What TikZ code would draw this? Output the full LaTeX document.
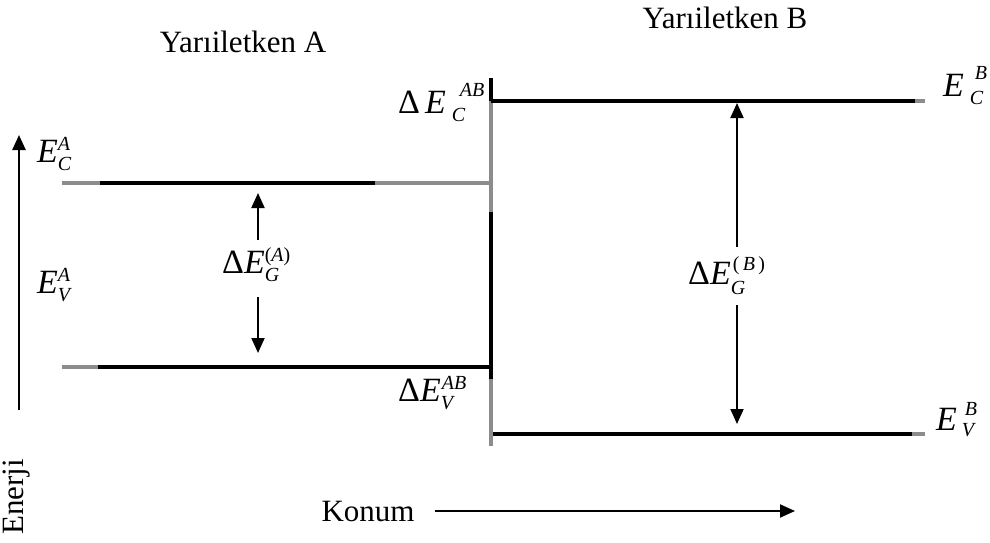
\documentclass[tikz,border=0pt]{standalone}
\usepackage{fontspec}
\setmainfont{Liberation Serif}
\usetikzlibrary{arrows.meta}
\definecolor{lvgray}{RGB}{140,140,140}
\newcommand{\bigf}{\fontsize{31}{36}\selectfont}
\newcommand{\labf}{\fontsize{34}{38}\selectfont}
\newcommand{\smf}{\fontsize{20}{22}\selectfont}
% superscript: xshift, raise, text ; subscript: lower, text
\newcommand{\SP}[3]{\makebox[0pt][l]{\hspace{#1}\raisebox{#2}{\smf\itshape #3}}}
\newcommand{\SB}[2]{\raisebox{-#1}{\smf\itshape #2}}
\begin{document}
\begin{tikzpicture}[x=1pt,y=-1pt,
  blk/.style={line width=4pt,black},
  gry/.style={line width=4pt,lvgray},
  garr/.style={line width=2pt,black,-{Triangle[length=15pt,width=13pt]}},
  lbl/.style={anchor=base west,inner sep=0pt,font=\labf},
  ttl/.style={inner sep=0pt,font=\bigf}]
\useasboundingbox (0,0) rectangle (990,543);
% coordinates of band edges
\coordinate (cA0) at (62,183);
\coordinate (cA1) at (100,183);
\coordinate (cA2) at (375,183);
\coordinate (cA3) at (491,183);
\coordinate (vA0) at (62,367);
\coordinate (vA1) at (98,367);
\coordinate (vA2) at (491,367);
\coordinate (iT) at (491,78);
\coordinate (iC) at (491,101);
\coordinate (iM) at (491,212);
\coordinate (iV) at (491,379);
\coordinate (iB) at (491,446);
\coordinate (cB0) at (491,101);
\coordinate (cB1) at (915,101);
\coordinate (cB2) at (925,101);
\coordinate (vB0) at (493,434);
\coordinate (vB1) at (912,434);
\coordinate (vB2) at (925,434);
% band lines
\draw[gry] (cA0) -- (cA1);
\draw[blk] (cA1) -- (cA2);
\draw[gry] (cA2) -- (cA3);
\draw[gry] (vA0) -- (vA1);
\draw[blk] (vA1) -- (vA2);
\draw[gry] (iC) -- (iM);
\draw[gry] (iV) -- (iB);
\draw[blk] (iT) -- (iC);
\draw[blk] (iM) -- (iV);
\draw[blk] (cB0) -- (cB1);
\draw[gry] (cB1) -- (cB2);
\draw[blk] (vB0) -- (vB1);
\draw[gry] (vB1) -- (vB2);
% gap arrows
\coordinate (aAu0) at (258,240);
\coordinate (aAu1) at (258,193);
\coordinate (aAd0) at (258,297);
\coordinate (aAd1) at (258,353);
\coordinate (aBu0) at (737,247);
\coordinate (aBu1) at (737,103);
\coordinate (aBd0) at (737,305);
\coordinate (aBd1) at (737,424);
\draw[garr] (aAu0) -- (aAu1);
\draw[garr] (aAd0) -- (aAd1);
\draw[garr] (aBu0) -- (aBu1);
\draw[garr] (aBd0) -- (aBd1);
% axes
\coordinate (ax0) at (19,410);
\coordinate (ax1) at (19,135);
\draw[garr,line width=2.5pt] (ax0) -- (ax1);
\coordinate (kx0) at (435,511);
\coordinate (kx1) at (795,511);
\draw[garr] (kx0) -- (kx1);
% labels
\node[lbl] (ECA) at (37,162) {\textit{E}\SP{0pt}{12pt}{A}\SB{8pt}{C}};
\node[lbl] (EVA) at (37,293) {\textit{E}\SP{0pt}{12pt}{A}\SB{8pt}{V}};
\node[lbl] (dECAB) at (398,113) {Δ\hspace{5pt}\textit{E}\hspace{6pt}\SP{8pt}{17pt}{AB}\SB{8pt}{C}};
\node[lbl] (dEVAB) at (398,401) {Δ\textit{E}\SP{1pt}{12pt}{AB}\SB{8pt}{V}};
\node[lbl] (ECB) at (943,96) {\textit{E}\hspace{6pt}\SP{5pt}{17pt}{B}\SB{8pt}{C}};
\node[lbl] (EVB) at (936,430) {\textit{E}\hspace{5pt}\SP{3pt}{15pt}{B}\SB{6pt}{V}};
\node[lbl] (dEGA) at (222,273) {Δ\textit{E}\SP{0pt}{12pt}{{\upshape(}A{\upshape)}}\SB{8pt}{G}};
\node[lbl] (dEGB) at (688,284) {Δ\textit{E}\SP{2pt}{14pt}{{\upshape(}\,B\,{\upshape)}}\SB{10pt}{G}};
\node[ttl] (tA) at (243,42) {Yarıiletken A};
\node[ttl] (tB) at (725,18) {Yarıiletken B};
\node[ttl] (kon) at (368,511) {Konum};
\node[ttl,rotate=90] (ene) at (17,497) {Enerji};
\end{tikzpicture}
\end{document}
